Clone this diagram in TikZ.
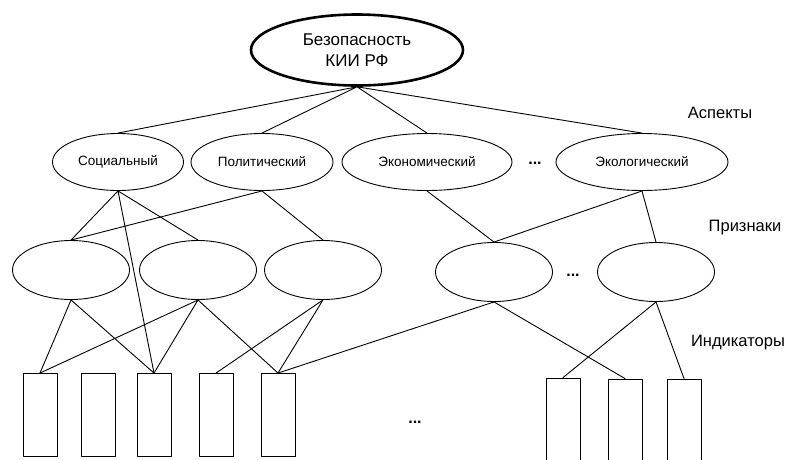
\documentclass[tikz,border=0pt]{standalone}
\usepackage{fontspec}
\setmainfont{Liberation Sans}
\usetikzlibrary{shapes.geometric}
\begin{document}
\begin{tikzpicture}[x=1pt,y=-1pt,line join=round,line cap=round,line width=.9pt,
	aspect/.style={draw,ellipse,inner sep=0pt,minimum height=57pt,font=\fontsize{13.5}{16}\selectfont},
	sign/.style={draw,ellipse,inner sep=0pt,minimum width=117pt,minimum height=59pt},
	ind/.style={draw,rectangle,inner sep=0pt,minimum width=34pt},
	level/.style={font=\fontsize{16.5}{20}\selectfont},
	dots/.style={font=\fontsize{16}{19}\selectfont\bfseries}]
	\clip (0,0) rectangle (787,459);
	\node[draw,ellipse,line width=2.6pt,inner sep=0pt,minimum width=212pt,minimum height=71pt,align=center,font=\fontsize{17}{20.5}\selectfont] (kii) at (357,50) {Безопасность\\КИИ РФ};
	\node[aspect,minimum width=131pt] (soc) at (118,162) {Социальный};
	\node[aspect,minimum width=142pt] (pol) at (262,162) {Политический};
	\node[aspect,minimum width=170pt] (eco) at (427,162) {Экономический};
	\node[aspect,minimum width=172pt] (ekol) at (642,162) {Экологический};
	\node[dots] (d1) at (535,163) {...};
	\node[level] (asp) at (720,113) {Аспекты};
	\node[sign] (p1) at (71,270) {};
	\node[sign] (p2) at (198,270) {};
	\node[sign] (p3) at (323,270) {};
	\node[sign] (p4) at (494,272) {};
	\node[sign] (p5) at (656,272) {};
	\node[dots] (d2) at (573,275) {...};
	\node[level] (pri) at (745,228) {Признаки};
	\node[ind,minimum height=83pt] (b1) at (40,415) {};
	\node[ind,minimum height=83pt] (b2) at (98,415) {};
	\node[ind,minimum height=83pt] (b3) at (154,415) {};
	\node[ind,minimum height=83pt] (b4) at (216,415) {};
	\node[ind,minimum height=83pt] (b5) at (278,415) {};
	\node[ind,minimum height=100pt] (b6) at (563,428) {};
	\node[ind,minimum height=100pt] (b7) at (625,429) {};
	\node[ind,minimum height=100pt] (b8) at (684,429) {};
	\node[dots] (d3) at (415,422) {...};
	\node[level] (ind) at (738,343) {Индикаторы};
	\draw (kii.south)--(soc.north) (kii.south)--(pol.north) (kii.south)--(eco.north) (kii.south)--(ekol.north);
	\draw (soc.south)--(p1.north) (soc.south)--(p2.north) (soc.south)--(b3.north);
	\draw (pol.south)--(p1.north) (pol.south)--(p3.north);
	\draw (eco.south)--(p4.north) (ekol.south)--(p4.north) (ekol.south)--(p5.north);
	\draw (p1.south)--(b1.north) (p1.south)--(b3.north);
	\draw (p2.south)--(b1.north) (p2.south)--(b3.north) (p2.south)--(b5.north);
	\draw (p3.south)--(b4.north) (p3.south)--(b5.north);
	\draw (p4.south)--(b5.north) (p4.south)--(b7.north);
	\draw (p5.south)--(b6.north) (p5.south)--(b8.north);
\end{tikzpicture}
\end{document}
